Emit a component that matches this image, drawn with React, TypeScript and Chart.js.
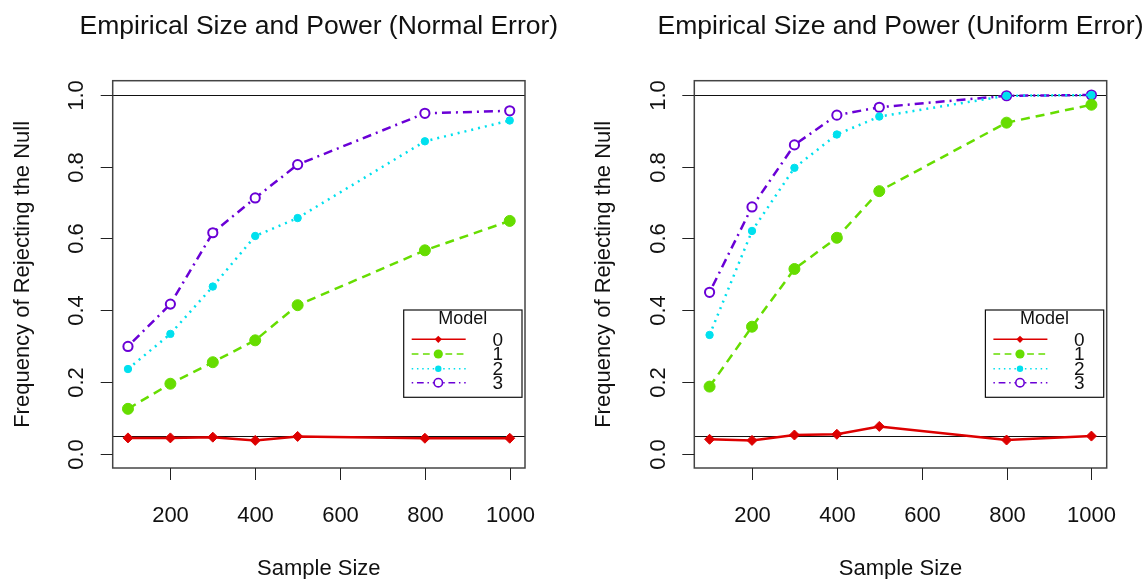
import React, { useEffect, useRef } from "react";
import { Chart, registerables } from "chart.js";

Chart.register(...registerables);

// ---------- data ----------
const sampleSizes = [100, 200, 300, 400, 500, 800, 1000];

const normalModel0 = [0.044, 0.044, 0.046, 0.037, 0.048, 0.043, 0.043];
const normalModel1 = [0.125, 0.195, 0.255, 0.316, 0.414, 0.567, 0.649];
const normalModel2 = [0.236, 0.334, 0.466, 0.607, 0.657, 0.871, 0.929];
const normalModel3 = [0.299, 0.417, 0.616, 0.713, 0.806, 0.949, 0.956];

const uniformModel0 = [0.04, 0.037, 0.052, 0.054, 0.076, 0.038, 0.049];
const uniformModel1 = [0.187, 0.354, 0.515, 0.602, 0.732, 0.923, 0.973];
const uniformModel2 = [0.331, 0.621, 0.797, 0.89, 0.94, 0.998, 1.0];
const uniformModel3 = [0.45, 0.688, 0.861, 0.944, 0.966, 0.998, 1.0];

const modelLabels = ["0", "1", "2", "3"];
const xTicks = [200, 400, 600, 800, 1000];
const yTicks = [0, 0.2, 0.4, 0.6, 0.8, 1.0];
const yTickLabels = ["0.0", "0.2", "0.4", "0.6", "0.8", "1.0"];
const refLines = [1.0, 0.05];

const titleNormal = "Empirical Size and Power (Normal Error)";
const titleUniform = "Empirical Size and Power (Uniform Error)";
const xAxisTitle = "Sample Size";
const yAxisTitle = "Frequency of Rejecting the Null";
const legendTitle = "Model";

// ---------- styles ----------
const FONT = "'Liberation Sans', Arial, Helvetica, sans-serif";
const styles = [
  { color: "#dd0000", dash: [] as number[], shape: "diamond", radius: 5, bw: 1, fill: "#dd0000", lr: 3.6 },
  { color: "#66dd00", dash: [9, 6], shape: "circle", radius: 5.5, bw: 1, fill: "#66dd00", lr: 4.6 },
  { color: "#00e0ee", dash: [2, 5], shape: "circle", radius: 3.7, bw: 1, fill: "#00e0ee", lr: 3.2 },
  { color: "#6a00d6", dash: [2, 5, 9, 5], shape: "open", radius: 4.6, bw: 2, fill: "#ffffff", lr: 4.2 },
];

function drawMarker(ctx: CanvasRenderingContext2D, shape: string, x: number, y: number, r: number, color: string) {
  ctx.save();
  ctx.setLineDash([]);
  ctx.beginPath();
  if (shape === "diamond") {
    ctx.moveTo(x, y - r);
    ctx.lineTo(x + r, y);
    ctx.lineTo(x, y + r);
    ctx.lineTo(x - r, y);
    ctx.closePath();
    ctx.fillStyle = color;
    ctx.fill();
  } else if (shape === "circle") {
    ctx.arc(x, y, r, 0, Math.PI * 2);
    ctx.fillStyle = color;
    ctx.fill();
  } else {
    ctx.arc(x, y, r, 0, Math.PI * 2);
    ctx.fillStyle = "#ffffff";
    ctx.fill();
    ctx.lineWidth = 1.6;
    ctx.strokeStyle = color;
    ctx.stroke();
  }
  ctx.restore();
}

function makeDecorPlugin(title: string) {
  return {
    id: "rDecor",
    beforeDatasetsDraw(chart: any) {
      const { ctx, chartArea } = chart;
      const yScale = chart.scales.y;
      ctx.save();
      ctx.strokeStyle = "#111";
      ctx.lineWidth = 1;
      refLines.forEach((v) => {
        const py = Math.round(yScale.getPixelForValue(v)) + 0.5;
        ctx.beginPath();
        ctx.moveTo(chartArea.left, py);
        ctx.lineTo(chartArea.right, py);
        ctx.stroke();
      });
      ctx.restore();
    },
    afterDraw(chart: any) {
      const { ctx, chartArea } = chart;
      const xScale = chart.scales.x;
      const yScale = chart.scales.y;
      const { left, right, top, bottom } = chartArea;
      ctx.save();
      // box
      ctx.strokeStyle = "#444";
      ctx.lineWidth = 1.5;
      ctx.setLineDash([]);
      ctx.strokeRect(left, top, right - left, bottom - top);

      // x ticks
      ctx.lineWidth = 1;
      ctx.strokeStyle = "#222";
      ctx.fillStyle = "#111";
      ctx.font = `22px ${FONT}`;
      ctx.textAlign = "center";
      ctx.textBaseline = "alphabetic";
      xTicks.forEach((v) => {
        const px = Math.round(xScale.getPixelForValue(v)) + 0.5;
        ctx.beginPath();
        ctx.moveTo(px, bottom);
        ctx.lineTo(px, bottom + 12);
        ctx.stroke();
        ctx.fillText(String(v), px, bottom + 54);
      });

      // y ticks
      yTicks.forEach((v, i) => {
        const py = Math.round(yScale.getPixelForValue(v)) + 0.5;
        ctx.beginPath();
        ctx.moveTo(left - 12, py);
        ctx.lineTo(left, py);
        ctx.stroke();
        ctx.save();
        ctx.translate(left - 29.5, py);
        ctx.rotate(-Math.PI / 2);
        ctx.fillText(yTickLabels[i], 0, 0);
        ctx.restore();
      });

      // axis titles
      ctx.fillText(xAxisTitle, (left + right) / 2, bottom + 106.5);
      ctx.save();
      ctx.translate(left - 84, (top + bottom) / 2);
      ctx.rotate(-Math.PI / 2);
      ctx.fillText(yAxisTitle, 0, 0);
      ctx.restore();

      // main title
      ctx.font = `26.5px ${FONT}`;
      ctx.fillText(title, (left + right) / 2, 34);

      // legend
      const bx0 = right - 121.3;
      const bx1 = right - 3;
      const by0 = top + 229.3;
      const by1 = top + 316.6;
      ctx.fillStyle = "#ffffff";
      ctx.fillRect(bx0, by0, bx1 - bx0, by1 - by0);
      ctx.strokeStyle = "#111";
      ctx.lineWidth = 1.2;
      ctx.strokeRect(bx0, by0, bx1 - bx0, by1 - by0);
      ctx.fillStyle = "#111";
      ctx.font = `18px ${FONT}`;
      ctx.textAlign = "center";
      ctx.textBaseline = "middle";
      ctx.fillText(legendTitle, right - 62.3, top + 238);
      const rowY = [258.6, 273.3, 288, 302];
      modelLabels.forEach((lab, i) => {
        const s = styles[i];
        const y = top + rowY[i];
        ctx.save();
        ctx.strokeStyle = s.color;
        ctx.lineWidth = 1.6;
        ctx.setLineDash(s.dash.map((d) => d * 0.75));
        ctx.beginPath();
        ctx.moveTo(right - 113.3, y);
        ctx.lineTo(right - 59.3, y);
        ctx.stroke();
        ctx.restore();
        drawMarker(ctx, s.shape, right - 86.7, y, s.lr, s.color);
        ctx.fillStyle = "#111";
        ctx.font = `19px ${FONT}`;
        ctx.fillText(lab, right - 27.3, y + 1);
      });
      ctx.restore();
    },
  };
}

function buildDatasets(series: number[][]) {
  return series.map((vals, i) => {
    const s = styles[i];
    return {
      label: modelLabels[i],
      data: sampleSizes.map((x, j) => ({ x, y: vals[j] })),
      borderColor: s.color,
      borderWidth: 2.5,
      borderDash: s.dash,
      pointStyle: s.shape === "diamond" ? "rectRot" : "circle",
      pointRadius: s.radius,
      pointBackgroundColor: s.fill,
      pointBorderColor: s.color,
      pointBorderWidth: s.bw,
      pointHoverRadius: s.radius,
      fill: false,
      tension: 0,
      clip: false,
    };
  });
}

type PanelProps = {
  title: string;
  series: number[][];
  padLeft: number;
  padRight: number;
  offsetX: number;
};

function Panel({ title, series, padLeft, padRight, offsetX }: PanelProps) {
  const ref = useRef<HTMLCanvasElement | null>(null);
  useEffect(() => {
    if (!ref.current) return;
    const chart = new Chart(ref.current, {
      type: "line",
      data: { datasets: buildDatasets(series) as any },
      options: {
        responsive: false,
        animation: false,
        devicePixelRatio: 1,
        layout: { padding: { left: padLeft, right: padRight, top: 80.7, bottom: 111 } },
        plugins: { legend: { display: false }, tooltip: { enabled: false }, title: { display: false } },
        scales: {
          x: { type: "linear", min: 64, max: 1036, display: false },
          y: { type: "linear", min: -0.04, max: 1.04, display: false },
        },
        events: [],
      },
      plugins: [makeDecorPlugin(title)],
    });
    return () => chart.destroy();
  }, []);
  return (
    <canvas
      ref={ref}
      width={574}
      height={579}
      style={{ position: "absolute", left: offsetX, top: 0, width: 574, height: 579 }}
    />
  );
}

export default function App() {
  return (
    <div style={{ position: "absolute", left: 0, top: 0, width: 1148, height: 579, background: "#ffffff" }}>
      <Panel
        title={titleNormal}
        series={[normalModel0, normalModel1, normalModel2, normalModel3]}
        padLeft={112.7}
        padRight={49}
        offsetX={0}
      />
      <Panel
        title={titleUniform}
        series={[uniformModel0, uniformModel1, uniformModel2, uniformModel3]}
        padLeft={120.3}
        padRight={41.3}
        offsetX={574}
      />
    </div>
  );
}
